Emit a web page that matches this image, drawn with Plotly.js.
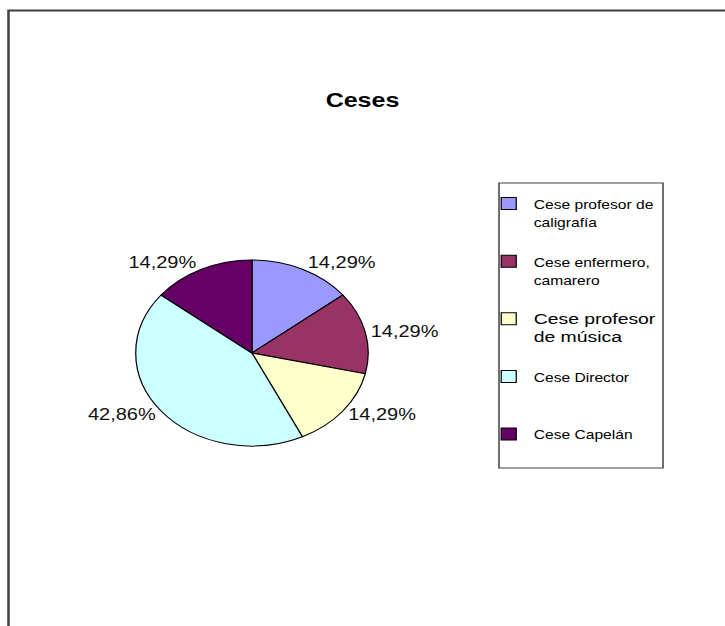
<!DOCTYPE html>
<html>
<head>
<meta charset="utf-8">
<script src="https://cdn.plot.ly/plotly-3.0.1.min.js"></script>
<style>
  html, body { margin: 0; padding: 0; background: #fff; overflow: hidden; }
  #wrap { width: 580px; height: 626px; transform: scaleX(1.25); transform-origin: 0 0; }
</style>
</head>
<body>
<div id="wrap"></div>
<script>
// ---- data ----
const categories = [
  "Cese profesor de<br>caligrafía",
  "Cese enfermero,<br>camarero",
  "Cese profesor<br>de música",
  "Cese Director",
  "Cese Capelán"
];
const values = [1, 1, 1, 3, 1];
const colors = ["#9999FF", "#993366", "#FFFFCC", "#CCFFFF", "#660066"];
const legendFontSizes = [12.5, 12.5, 15.5, 12.5, 12.5];

// legend labels: padded to three lines each so the entries are spaced like the original
const NB = "\u00a0";
const legendLabels = categories.map((c, i) => {
  const lines = c.split("<br>");
  while (lines.length < 3) lines.push(NB);
  return lines.map(l => "<span style='font-size:" + legendFontSizes[i] + "px'>" + l + "</span>").join("<br>");
});

const trace = {
  type: "pie",
  labels: legendLabels,
  values: values,
  sort: false,
  direction: "clockwise",
  rotation: 0,
  marker: { colors: colors, line: { color: "#000000", width: 1 } },
  textposition: "outside",
  texttemplate: "%{percent:.2%}",
  outsidetextfont: { family: "Liberation Sans, Arial, sans-serif", size: 16, color: "#111111" },
  hoverinfo: "none",
  domain: { x: [0.1872, 0.5079], y: [0.2875, 0.5847] }
};

const layout = {
  width: 580,
  height: 626,
  margin: { l: 0, r: 0, t: 0, b: 0 },
  paper_bgcolor: "#ffffff",
  separators: ",.",
  font: { family: "Liberation Sans, Arial, sans-serif", color: "#000000" },
  title: {
    text: "<b>Ceses</b>",
    x: 0.5, xanchor: "center", xref: "paper",
    y: 0.8395, yanchor: "middle", yref: "paper",
    font: { family: "Liberation Sans, Arial, sans-serif", size: 20, color: "#000000" }
  },
  showlegend: true,
  legend: {
    x: 0.6672, xanchor: "left",
    y: 0.6997, yanchor: "top",
    bgcolor: "rgba(0,0,0,0)",
    borderwidth: 0,
    valign: "top",
    font: { family: "Liberation Sans, Arial, sans-serif", size: 14, color: "#000000" },
    traceorder: "normal"
  },
  shapes: [
    {
      type: "rect", xref: "paper", yref: "paper",
      x0: 0.0117, x1: 1.1, y0: -0.1, y1: 1 - 10.5 / 626,
      line: { color: "#404040", width: 2 },
      fillcolor: "rgba(0,0,0,0)",
      layer: "below"
    },
    {
      type: "rect", xref: "paper", yref: "paper",
      x0: 0.6883, x1: 0.9145, y0: 0.2524, y1: 0.7077,
      line: { color: "#404040", width: 1.2 },
      fillcolor: "#ffffff",
      layer: "below"
    }
  ]
};

Plotly.newPlot("wrap", [trace], layout, { staticPlot: true, displayModeBar: false, responsive: false });
</script>
</body>
</html>
